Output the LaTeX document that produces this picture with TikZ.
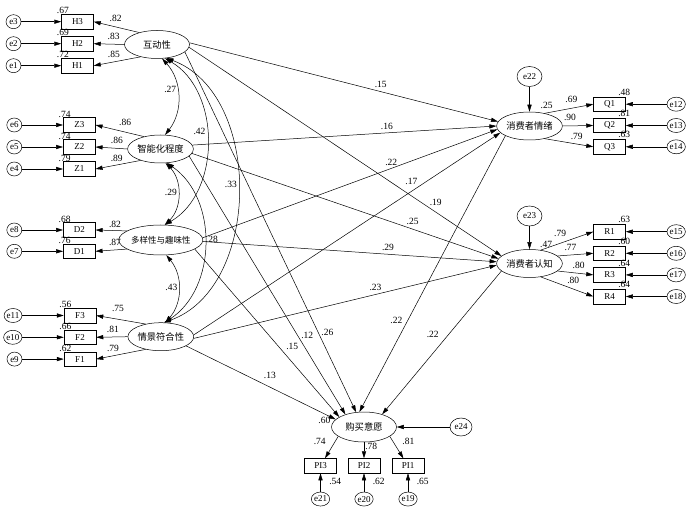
\documentclass[tikz,border=0pt]{standalone}
\usepackage{fontspec}
\setmainfont{Liberation Serif}
\newfontfamily\cjkfont{Noto Sans CJK SC}
\usetikzlibrary{positioning,shapes.geometric,arrows.meta}

\tikzset{
  latent/.style={draw, ellipse, minimum width=65pt, minimum height=28pt,
    inner sep=0pt, font=\cjkfont\fontsize{9.3}{10}\selectfont},
  indicator/.style={draw, rectangle, minimum width=32pt, minimum height=14.5pt,
    inner sep=0pt, font=\fontsize{9}{10}\selectfont},
  err/.style={draw, ellipse, minimum width=15pt, minimum height=14pt,
    inner sep=0pt, font=\fontsize{9}{10}\selectfont},
  disturb/.style={err, minimum width=25pt, minimum height=20pt},
  coef/.style={inner sep=1pt, font=\fontsize{9.5}{10}\selectfont},
  rsq/.style={label={[coef, yshift=-1pt]above left:#1}},
  rsqright/.style={label={[coef]above right:#1}},
  rsqbelow/.style={label={[coef, yshift=-4pt]below right:#1}}
}

\begin{document}
\begin{tikzpicture}[x=1pt, y=-1pt, line width=0.5pt,
    >={Triangle[length=7pt,width=4.2pt]}]
    \useasboundingbox (0,0) rectangle (687,510);

    % latent variables
    \node[latent] (H) at (157,44.5) {互动性};
    \node[latent] (Z) at (160.5,149) {智能化程度};
    \node[latent, minimum height=30pt, font=\cjkfont\fontsize{8.5}{10}\selectfont] (D) at (160.8,240) {多样性与趣味性};
    \node[latent] (F) at (160.8,336.7) {情景符合性};
    \node[latent, label={[coef, label distance=2.5pt]58:.25}] (Q) at (529.5,126) {消费者情绪};
    \node[latent, label={[coef, label distance=1.5pt]58:.47}] (R) at (529.5,263.5) {消费者认知};
    \node[latent, minimum height=30pt, label={[coef]176:.60}] (PI) at (364,427) {购买意愿};

    % indicators, left
    \node[indicator, rsq=.67] (H3) at (77.5,21.7) {H3};
    \node[indicator, rsq=.69] (H2) [below=7pt of H3] {H2};
    \node[indicator, rsq=.72] (H1) [below=7pt of H2] {H1};
    \node[indicator, rsq=.74] (Z3) at (79.3,125) {Z3};
    \node[indicator, rsq=.74] (Z2) [below=7pt of Z3] {Z2};
    \node[indicator, rsq=.79] (Z1) [below=7pt of Z2] {Z1};
    \node[indicator, rsq=.68] (D2) at (79.3,230) {D2};
    \node[indicator, rsq=.76] (D1) [below=6.3pt of D2] {D1};
    \node[indicator, rsq=.56] (F3) at (80,315.5) {F3};
    \node[indicator, rsq=.66] (F2) [below=6.8pt of F3] {F2};
    \node[indicator, rsq=.62] (F1) [below=6.8pt of F2] {F1};

    % indicators, right and bottom
    \node[indicator, rsqright=.48] (Q1) at (609.5,104.2) {Q1};
    \node[indicator, rsqright=.81] (Q2) [below=6.3pt of Q1] {Q2};
    \node[indicator, rsqright=.63] (Q3) [below=6.3pt of Q2] {Q3};
    \node[indicator, rsqright=.63] (R1) at (609.5,231.7) {R1};
    \node[indicator, rsqright=.60] (R2) [below=6.6pt of R1] {R2};
    \node[indicator, rsqright=.64] (R3) [below=6.6pt of R2] {R3};
    \node[indicator, rsqright=.64] (R4) [below=6.6pt of R3] {R4};
    \node[indicator, rsqbelow=.62] (PI2) at (364,465.8) {PI2};
    \node[indicator, rsqbelow=.54] (PI3) [left=11pt of PI2] {PI3};
    \node[indicator, rsqbelow=.65] (PI1) [right=11.5pt of PI2] {PI1};

    % error terms
    \node[err] (e3) [left=40pt of H3] {e3};
    \node[err] (e2) [left=40pt of H2] {e2};
    \node[err] (e1) [left=40pt of H1] {e1};
    \node[err] (e6) [left=41pt of Z3] {e6};
    \node[err] (e5) [left=41pt of Z2] {e5};
    \node[err] (e4) [left=41pt of Z1] {e4};
    \node[err] (e8) [left=41pt of D2] {e8};
    \node[err] (e7) [left=41pt of D1] {e7};
    \node[err] (e11) [left=41.5pt of F3] {e11};
    \node[err] (e10) [left=41.5pt of F2] {e10};
    \node[err] (e9) [left=41.5pt of F1] {e9};
    \node[err] (e12) [right=41pt of Q1] {e12};
    \node[err] (e13) [right=41pt of Q2] {e13};
    \node[err] (e14) [right=41pt of Q3] {e14};
    \node[err] (e15) [right=41pt of R1] {e15};
    \node[err] (e16) [right=41pt of R2] {e16};
    \node[err] (e17) [right=41pt of R3] {e17};
    \node[err] (e18) [right=41pt of R4] {e18};
    \node[err] (e21) [below=18.5pt of PI3] {e21};
    \node[err] (e20) [below=18.5pt of PI2] {e20};
    \node[err] (e19) [below=18.5pt of PI1] {e19};
    \node[disturb] (e22) [above=25pt of Q] {e22};
    \node[disturb] (e23) [above=23pt of R] {e23};
    \node[disturb, minimum width=22pt, minimum height=18pt] (e24) [right=53pt of PI] {e24};

    \draw[->] (e3) -- (H3);
    \draw[->] (e2) -- (H2);
    \draw[->] (e1) -- (H1);
    \draw[->] (e6) -- (Z3);
    \draw[->] (e5) -- (Z2);
    \draw[->] (e4) -- (Z1);
    \draw[->] (e8) -- (D2);
    \draw[->] (e7) -- (D1);
    \draw[->] (e11) -- (F3);
    \draw[->] (e10) -- (F2);
    \draw[->] (e9) -- (F1);
    \draw[->] (e12) -- (Q1);
    \draw[->] (e13) -- (Q2);
    \draw[->] (e14) -- (Q3);
    \draw[->] (e15) -- (R1);
    \draw[->] (e16) -- (R2);
    \draw[->] (e17) -- (R3);
    \draw[->] (e18) -- (R4);
    \draw[->] (e21) -- (PI3);
    \draw[->] (e20) -- (PI2);
    \draw[->] (e19) -- (PI1);
    \draw[->] (e22) -- (Q);
    \draw[->] (e23) -- (R);
    \draw[->] (e24) -- (PI);

    % loadings
    \path[->] (H.146) edge node[coef, pos=.52, above=4pt] {.82} (H3.east)
              (H.180) edge node[coef, pos=.35, above=3.5pt] {.83} (H2.east)
              (H.217) edge node[coef, pos=.57, above=3pt] {.85} (H1.east);
    \path[->] (Z.143) edge node[coef, pos=.39, above=5pt] {.86} (Z3.east)
              (Z.180) edge node[coef, pos=.33, above=3pt] {.86} (Z2.east)
              (Z.210) edge node[coef, pos=.53, above=2pt] {.89} (Z1.east);
    \path[->] (D.165) edge node[coef, pos=.38, above=2pt] {.82} (D2.east)
              (D.195) edge node[coef, pos=.38, above=3pt] {.87} (D1.east);
    \path[->] (F.140) edge node[coef, pos=.56, above=6pt] {.75} (F3.east)
              (F.180) edge node[coef, pos=.47, above=3pt] {.81} (F2.east)
              (F.220) edge node[coef, pos=.66, above=2.5pt] {.79} (F1.east);
    \path[->] (Q.40) edge node[coef, pos=.55, above=4.5pt] {.69} (Q1.west)
              (Q.0) edge node[coef, pos=.24, above=4pt] {.90} (Q2.west)
              (Q.320) edge node[coef, pos=.66, above=3pt] {.79} (Q3.west);
    \path[->] (R.50) edge node[coef, pos=.37, above=5.5pt] {.79} (R1.west)
              (R.15) edge node[coef, pos=.36, above=3pt] {.77} (R2.west)
              (R.345) edge node[coef, pos=.59, above=3pt] {.80} (R3.west)
              (R.310) edge node[coef, pos=.62, above=4pt] {.80} (R4.west);
    \path[->] (PI.200) edge node[coef, pos=.25, left=8pt] {.74} (PI3)
              (PI) edge node[coef, pos=.25, right] {.78} (PI2)
              (PI.340) edge node[coef, pos=.25, right=8pt] {.81} (PI1);

    % structural paths
    \path[->] (H.3) edge node[coef, pos=.62, above=2.4pt] {.15} (Q.172)
              (H.355) edge node[coef, pos=.79, above=5pt] {.19} (R.165)
              (H.345) edge node[coef, pos=.79, above right] {.26} (PI.118);
    \path[->] (Z.7) edge node[coef, pos=.64, above=2.4pt] {.16} (Q.180)
              (Z.352) edge node[coef, pos=.72, above=3.7pt] {.25} (R.171)
              (Z.346) edge node[coef, pos=.71, above right] {.12} (PI.146);
    \path[->] (D.3) edge node[coef, pos=.64, above=2pt] {.22} (Q.186)
              (D.358) edge node[coef, pos=.63, above=2.6pt] {.29} (R.177)
              (D.345) edge node[coef, pos=.615, above right=2pt] {.15} (PI.158);
    \path[->] (F.3) edge node[coef, pos=.71, above=6pt] {.17} (Q.193)
              (F.357) edge node[coef, pos=.6, above=3pt] {.23} (R.183)
              (F.340) edge node[coef, pos=.56, above=7pt] {.13} (PI.165);
    \path[->] (Q.202) edge node[coef, pos=.67, left=4pt] {.22} (PI.107)
              (R.195) edge node[coef, pos=.44, left=9pt] {.22} (PI.35);

    % covariances
    \path[<->] (H.290) edge[bend left=40] node[coef, pos=.42, left] {.27} (Z.72)
               (H.300) edge[bend left=60] node[coef, pos=.45, left] {.42} (D.75)
               (H.305) edge[bend left=70] node[coef, pos=.48, left] {.33} (F.78)
               (Z.290) edge[bend left=45] node[coef, pos=.48, left] {.29} (D.75)
               (Z.295) edge[bend left=56] node[coef, pos=.48, right] {.28} (F.75)
               (D.290) edge[bend left=40] node[coef, pos=.48, left] {.43} (F.72);
\end{tikzpicture}
\end{document}
